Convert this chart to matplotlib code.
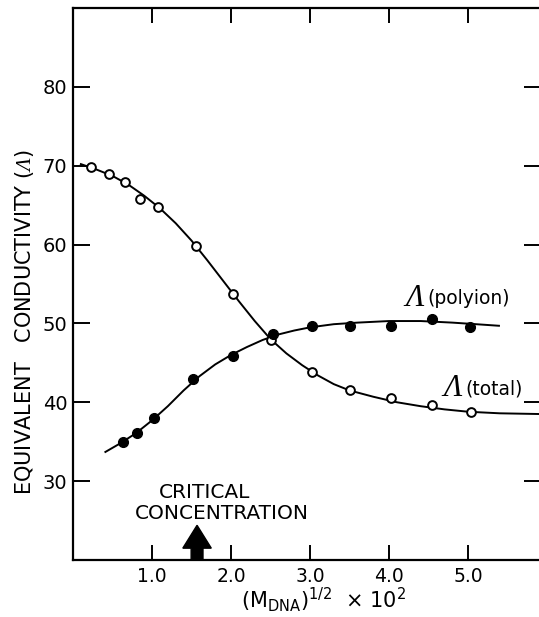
import matplotlib
matplotlib.use('Agg')
import matplotlib.pyplot as plt

# data
# open circles: total conductivity
total_x = [0.23, 0.45, 0.66, 0.85, 1.07, 1.56, 2.03, 2.51, 3.03, 3.51, 4.03, 4.54, 5.04]
total_y = [69.8, 68.9, 67.9, 65.8, 64.8, 59.8, 53.7, 47.9, 43.8, 41.6, 40.5, 39.7, 38.8]

# filled circles: polyion conductivity
poly_x = [0.63, 0.81, 1.03, 1.52, 2.03, 2.53, 3.02, 3.51, 4.03, 4.54, 5.03]
poly_y = [35.0, 36.1, 38.0, 42.9, 45.9, 48.7, 49.7, 49.7, 49.7, 50.6, 49.6]

# hand drawn smooth curves
total_curve_x = [0.1, 0.3, 0.5, 0.7, 0.9, 1.1, 1.3, 1.5, 1.7, 1.9, 2.1, 2.3, 2.5,
                 2.7, 2.9, 3.1, 3.3, 3.5, 3.8, 4.1, 4.4, 4.7, 5.0, 5.4, 5.95]
total_curve_y = [70.2, 69.5, 68.7, 67.6, 66.2, 64.6, 62.7, 60.5, 58.0, 55.4, 52.8, 50.3, 48.0,
                 46.2, 44.7, 43.4, 42.3, 41.5, 40.7, 40.0, 39.5, 39.1, 38.8, 38.6, 38.5]

poly_curve_x = [0.41, 0.6, 0.8, 1.0, 1.2, 1.4, 1.6, 1.8, 2.0, 2.2, 2.4, 2.6, 2.8,
                3.0, 3.3, 3.6, 4.0, 4.4, 4.8, 5.1, 5.39]
poly_curve_y = [33.7, 34.8, 36.1, 37.7, 39.5, 41.5, 43.3, 44.8, 46.0, 47.0, 47.9, 48.6, 49.1,
                49.5, 49.9, 50.1, 50.3, 50.3, 50.1, 49.9, 49.7]

xticks = [1.0, 2.0, 3.0, 4.0, 5.0]
yticks = [30, 40, 50, 60, 70, 80]
critical_x = 1.57

plt.rcParams['font.family'] = ['DejaVu Sans']
plt.rcParams['mathtext.fontset'] = 'custom'
plt.rcParams['mathtext.rm'] = 'DejaVu Sans'
# sf slot holds the serif italic used for the Lambda symbol
plt.rcParams['mathtext.sf'] = 'Liberation Serif:italic'

fig = plt.figure(figsize=(5.39, 6.17), dpi=100)
ax = fig.add_axes([0.1354, 0.0924, 0.868, 0.8947])

ax.plot(total_curve_x, total_curve_y, color='black', lw=1.4)
ax.plot(poly_curve_x, poly_curve_y, color='black', lw=1.4)
ax.plot(total_x, total_y, 'o', ms=6.3, mfc='white', mec='black', mew=1.4, zorder=3)
ax.plot(poly_x, poly_y, 'o', ms=7, mfc='black', mec='black', zorder=3)

ax.set_xlim(0, 5.92)
ax.set_ylim(20, 90)
ax.set_xticks(xticks)
ax.set_xticklabels(['%.1f' % t for t in xticks])
ax.set_yticks(yticks)

for s in ['left', 'bottom', 'top']:
    ax.spines[s].set_linewidth(1.6)
ax.spines['right'].set_visible(False)

ax.tick_params(axis='x', direction='in', length=10.5, width=1.4, top=True,
               labelsize=13.5, pad=5)
ax.tick_params(axis='y', direction='in', length=12, width=1.4, right=True,
               labelsize=14, pad=4)

ax.set_ylabel('EQUIVALENT   CONDUCTIVITY ($\\mathsf{\\Lambda}$)', fontsize=15)
ax.yaxis.set_label_coords(-0.08, 0.43)
ax.set_xlabel('(M$_{\\mathrm{DNA}}$)$^{1/2}$  $\\times$ 10$^2$', fontsize=15, va='center')
ax.xaxis.set_label_coords(0.535, -0.072)

# curve labels
ax.text(4.2, 52.2, '\u039b', fontsize=22, style='italic', family='Liberation Serif')
ax.text(4.48, 52.4, '(polyion)', fontsize=13.5)
ax.text(4.69, 40.8, '\u039b', fontsize=22, style='italic', family='Liberation Serif')
ax.text(4.97, 41.0, '(total)', fontsize=13.5)

# critical concentration marker
ax.text(1.67, 28.6, 'CRITICAL', fontsize=14.5, ha='center', va='center')
ax.text(1.89, 25.9, 'CONCENTRATION', fontsize=14.5, ha='center', va='center')
ax.arrow(critical_x, 20, 0, 4.4, width=0.15, head_width=0.36, head_length=2.9,
         length_includes_head=True, color='black', clip_on=False)

fig.savefig('out.png', dpi=100)
